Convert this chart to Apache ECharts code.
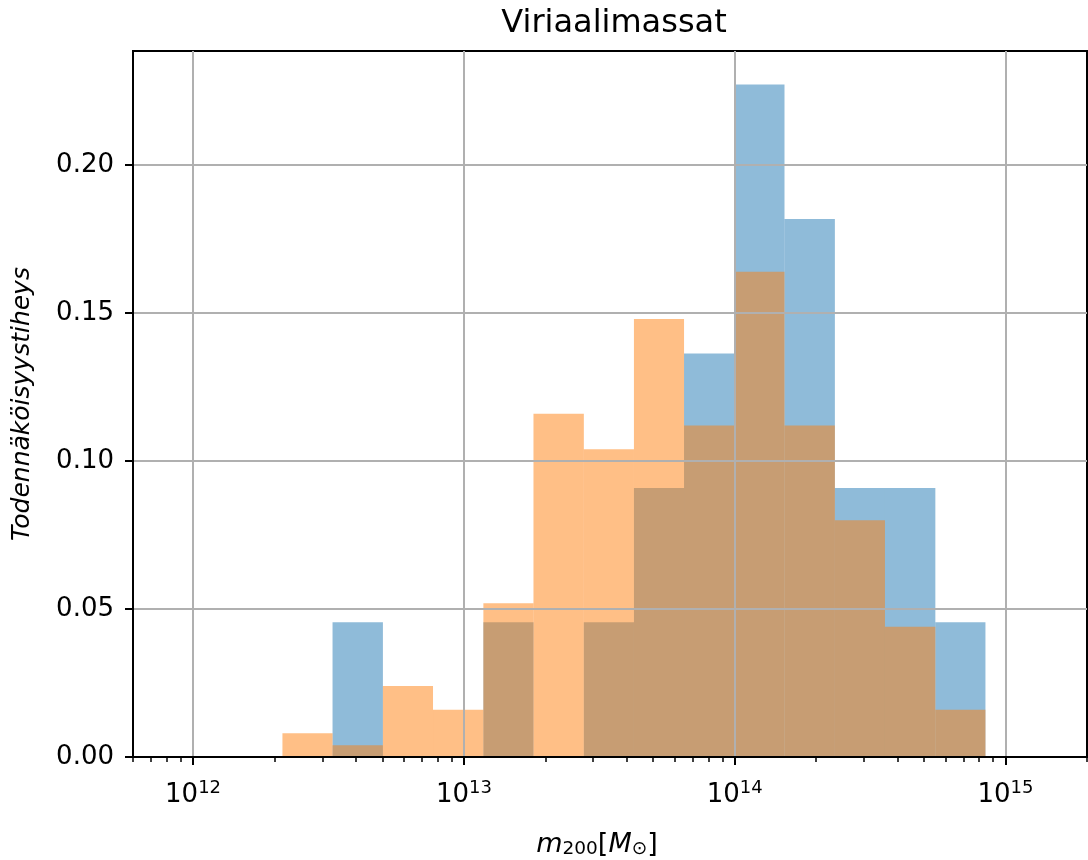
<!DOCTYPE html>
<html>
<head>
<meta charset="utf-8">
<script src="https://cdn.jsdelivr.net/npm/echarts@6/dist/echarts.min.js"></script>
<style>
  html, body { margin: 0; padding: 0; background: #ffffff; }
  #chart { width: 1088px; height: 860px; }
</style>
</head>
<body>
<div id="chart"></div>
<script>
// Histogram bin edges, in log10(m200 / M_sun)
const binEdgesLog = [12.330, 12.515, 12.701, 12.886, 13.072, 13.257, 13.443, 13.628,
                     13.813, 13.999, 14.184, 14.370, 14.555, 14.741, 14.926];
// Probability per bin for the two samples
const blueValues   = [0, 0.0455, 0, 0, 0.0455, 0, 0.0455, 0.0909, 0.1364, 0.2273, 0.1818, 0.0909, 0.0909, 0.0455];
const orangeValues = [0.008, 0.004, 0.024, 0.016, 0.052, 0.116, 0.104, 0.148, 0.112, 0.164, 0.112, 0.080, 0.044, 0.016];
// Axis ticks
const xMajorExponents = [12, 13, 14, 15];
const yTickValues = [0, 0.05, 0.10, 0.15, 0.20];
const minorMultipliers = [2, 3, 4, 5, 6, 7, 8, 9];

const FONT = 'DejaVu Sans';
const xRange = [Math.log10(6e11), Math.log10(2e15)];
const yMax = 0.2386;

// minor ticks of a log axis: k * 10^n
const xMinorTicks = [];
for (let n = 11; n <= 15; n++) {
  minorMultipliers.forEach(k => {
    const v = n + Math.log10(k);
    if (v >= xRange[0] - 1e-9 && v <= xRange[1] + 1e-9) xMinorTicks.push(v);
  });
}

function binData(values) {
  return values.map((v, i) => [binEdgesLog[i], binEdgesLog[i + 1], v]);
}

function histRenderer(fill) {
  return function (params, api) {
    const topLeft = api.coord([api.value(0), api.value(2)]);
    const bottomRight = api.coord([api.value(1), 0]);
    return {
      type: 'rect',
      shape: {
        x: topLeft[0],
        y: topLeft[1],
        width: bottomRight[0] - topLeft[0],
        height: bottomRight[1] - topLeft[1]
      },
      style: { fill: fill }
    };
  };
}

const chart = echarts.init(document.getElementById('chart'), null, { renderer: 'canvas' });

chart.setOption({
  animation: false,
  backgroundColor: '#ffffff',
  title: {
    text: 'Viriaalimassat',
    left: 609,
    textAlign: 'center',
    top: 3,
    textStyle: { fontFamily: FONT, fontSize: 32, fontWeight: 'normal', color: '#000' }
  },
  grid: {
    left: 133, top: 51, width: 954, height: 706,
    outerBoundsMode: 'none',
    containLabel: false,
    show: true, borderColor: '#000', borderWidth: 2, backgroundColor: 'transparent'
  },
  xAxis: [
    {
      type: 'value',
      position: 'bottom',
      min: xRange[0],
      max: xRange[1],
      z: 11,
      axisLine: { show: true, onZero: false, lineStyle: { color: '#000', width: 2 } },
      axisTick: { show: true, customValues: xMajorExponents, length: 8, lineStyle: { color: '#000', width: 2 } },
      axisLabel: {
        customValues: xMajorExponents,
        margin: 22,
        formatter: v => '{b|10}{sup|' + Math.round(v) + '}',
        rich: {
          b: { fontFamily: FONT, fontSize: 26, color: '#000' },
          sup: { fontFamily: FONT, fontSize: 18, color: '#000', padding: [0, 0, 14, 0] }
        }
      },
      splitLine: { show: true, lineStyle: { color: '#b0b0b0', width: 2 } },
      name: '{i|m}{sub|200}{r|[}{i|M}{subs|⊙}{r|]}',
      nameLocation: 'middle',
      nameGap: 73,
      nameTextStyle: {
        padding: [0, 26, 0, 0],
        rich: {
          i: { fontFamily: FONT, fontSize: 27, fontStyle: 'italic', color: '#000' },
          r: { fontFamily: FONT, fontSize: 27, color: '#000' },
          sub: { fontFamily: FONT, fontSize: 18.5, color: '#000', padding: [10, 0, 0, 0] },
          subs: { fontFamily: FONT, fontSize: 18.5, color: '#000', padding: [10, 0, 0, 0] }
        }
      }
    },
    {
      type: 'value',
      position: 'bottom',
      min: xRange[0],
      max: xRange[1],
      z: 11,
      axisLine: { show: false },
      axisTick: { show: true, customValues: xMinorTicks, length: 5, lineStyle: { color: '#000', width: 1.5 } },
      axisLabel: { show: false },
      splitLine: { show: false }
    }
  ],
  yAxis: {
    type: 'value',
    min: 0,
    max: yMax,
    z: 10,
    axisLine: { show: true, lineStyle: { color: '#000', width: 2 } },
    axisTick: { show: true, customValues: yTickValues, length: 8, lineStyle: { color: '#000', width: 2 } },
    axisLabel: {
      customValues: yTickValues,
      margin: 19,
      formatter: v => v.toFixed(2),
      fontFamily: FONT, fontSize: 26, color: '#000'
    },
    splitLine: { show: true, showMinLine: false, lineStyle: { color: '#b0b0b0', width: 2 } },
    name: 'Todennäköisyystiheys',
    nameLocation: 'middle',
    nameGap: 98,
    nameTextStyle: { fontFamily: FONT, fontSize: 25, fontStyle: 'italic', color: '#000' }
  },
  series: [
    {
      type: 'custom',
      xAxisIndex: 0,
      renderItem: histRenderer('rgba(31, 119, 180, 0.5)'),
      encode: { x: [0, 1], y: 2 },
      data: binData(blueValues)
    },
    {
      type: 'custom',
      xAxisIndex: 0,
      renderItem: histRenderer('rgba(255, 127, 14, 0.5)'),
      encode: { x: [0, 1], y: 2 },
      data: binData(orangeValues)
    }
  ]
});
</script>
</body>
</html>
